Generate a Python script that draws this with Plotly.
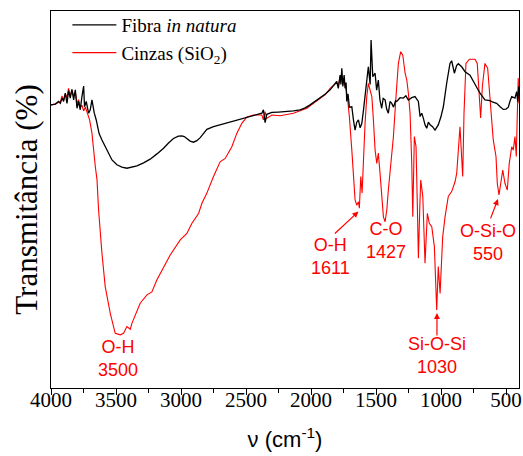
import plotly.graph_objects as go

# FTIR spectra (transmittance in arbitrary %, axis has no scale)
wn_fibra = [4000, 3967, 3942, 3928, 3915, 3903, 3890, 3877, 3865, 3852, 3839, 3826, 3813, 3800,
            3788, 3775, 3762, 3749, 3742, 3729, 3711, 3698, 3685, 3677, 3667, 3652, 3630, 3608,
            3570, 3531, 3493, 3455, 3416, 3378, 3339, 3288, 3237, 3185, 3134, 3096, 3058, 3020,
            2993, 2975, 2955, 2930, 2904, 2878, 2852, 2801, 2750, 2700, 2647, 2596, 2545, 2494,
            2443, 2400, 2378, 2366, 2353, 2340, 2301, 2250, 2186, 2135, 2084, 2045, 2007, 1970,
            1930, 1890, 1853, 1825, 1802, 1790, 1780, 1776, 1770, 1763, 1755, 1745, 1738, 1730,
            1725, 1715, 1705, 1686, 1673, 1661, 1648, 1635, 1622, 1609, 1597, 1584, 1570, 1559,
            1545, 1538, 1525, 1507, 1495, 1482, 1470, 1456, 1445, 1430, 1418, 1405, 1392, 1379,
            1365, 1350, 1340, 1315, 1290, 1270, 1251, 1225, 1200, 1174, 1161, 1148, 1136, 1123,
            1110, 1097, 1084, 1065, 1046, 1021, 1000, 982, 956, 931, 918, 905, 897, 880, 867,
            841, 815, 777, 738, 700, 662, 623, 600, 572, 545, 521, 500, 482, 470, 456, 431, 418,
            410, 402]
t_fibra = [75.1, 75.3, 76.0, 75.5, 76.9, 76.0, 78.2, 75.5, 78.9, 76.9, 79.2, 76.4, 79.1, 74.2,
           76.0, 73.8, 77.3, 80.1, 74.6, 76.0, 72.9, 73.8, 76.4, 74.6, 72.9, 71.1, 67.5, 65.8,
           63.1, 60.5, 59.2, 58.6, 58.3, 58.5, 58.9, 59.7, 60.7, 62.1, 63.6, 65.0, 66.2, 66.8,
           66.9, 66.7, 66.2, 65.5, 65.2, 65.6, 66.4, 68.6, 69.3, 69.8, 70.2, 70.8, 71.3, 71.8,
           72.4, 72.7, 72.9, 73.8, 70.4, 72.6, 73.1, 73.2, 73.3, 73.5, 73.8, 74.3, 75.1, 76.0,
           76.9, 78.0, 79.1, 80.2, 81.3, 79.5, 82.0, 83.0, 80.5, 84.8, 80.0, 83.0, 79.5, 81.0,
           76.0, 78.0, 74.5, 74.6, 71.0, 68.4, 70.5, 71.1, 69.0, 70.2, 73.5, 77.3, 81.0, 85.2,
           80.5, 92.3, 82.6, 83.5, 79.0, 81.7, 76.5, 74.2, 76.8, 76.4, 74.0, 72.9, 76.0, 75.5,
           74.5, 76.2, 76.0, 77.0, 76.9, 77.5, 76.4, 77.0, 77.3, 76.0, 72.0, 72.9, 71.6, 69.8,
           68.9, 70.5, 69.8, 69.3, 68.4, 69.8, 72.0, 74.6, 80.9, 86.1, 86.8, 84.0, 83.5, 85.5,
           86.0, 85.2, 83.9, 83.0, 80.4, 78.2, 76.4, 76.2, 75.8, 75.5, 74.6, 73.9, 74.0, 74.5,
           76.0, 77.3, 76.9, 78.6, 76.0, 79.9]

wn_cinzas = [4000, 3967, 3942, 3928, 3915, 3903, 3890, 3877, 3865, 3852, 3839, 3826, 3813, 3800,
             3788, 3775, 3762, 3749, 3736, 3723, 3703, 3685, 3673, 3659, 3646, 3634, 3608, 3583,
             3544, 3506, 3467, 3442, 3416, 3390, 3377, 3352, 3314, 3262, 3224, 3185, 3134, 3083,
             3006, 2955, 2916, 2865, 2839, 2801, 2750, 2699, 2660, 2609, 2570, 2532, 2493, 2443,
             2378, 2366, 2353, 2340, 2301, 2237, 2135, 2032, 1981, 1930, 1890, 1853, 1820, 1802,
             1790, 1776, 1763, 1750, 1738, 1720, 1705, 1686, 1674, 1661, 1648, 1635, 1628, 1617,
             1607, 1597, 1584, 1571, 1559, 1546, 1532, 1520, 1507, 1494, 1482, 1469, 1456, 1443,
             1430, 1417, 1405, 1392, 1366, 1346, 1328, 1310, 1294, 1276, 1263, 1251, 1238, 1225,
             1217, 1205, 1192, 1183, 1174, 1163, 1156, 1148, 1140, 1123, 1105, 1090, 1071, 1051,
             1033, 1021, 1007, 987, 969, 944, 918, 892, 879, 854, 841, 833, 823, 808, 782, 738,
             721, 708, 695, 682, 662, 641, 623, 610, 598, 577, 567, 554, 541, 525, 508, 490, 475,
             456, 444, 431, 421, 413, 406, 400]
t_cinzas = [75.1, 75.3, 75.8, 75.9, 77.5, 76.4, 78.0, 77.0, 79.5, 77.5, 79.0, 77.5, 78.5, 75.5,
            76.5, 74.5, 75.0, 73.5, 74.5, 72.9, 71.1, 67.6, 63.1, 58.7, 55.2, 47.2, 35.7, 26.9,
            19.8, 14.5, 14.1, 14.5, 16.3, 15.6, 17.2, 19.4, 22.5, 24.7, 25.5, 28.7, 32.2, 35.3,
            39.3, 41.0, 43.7, 46.3, 49.0, 51.7, 56.1, 60.0, 60.9, 64.0, 67.6, 70.2, 71.9, 72.4,
            72.4, 71.1, 73.3, 71.5, 72.4, 72.2, 72.9, 74.2, 75.5, 76.9, 77.8, 79.5, 80.5, 81.0,
            80.3, 82.5, 82.0, 81.0, 80.4, 77.3, 72.0, 63.1, 56.1, 49.9, 48.5, 49.4, 47.7, 56.1,
            51.7, 61.4, 70.2, 77.3, 80.8, 79.1, 77.3, 71.1, 63.1, 59.6, 62.3, 57.0, 50.8, 45.4,
            44.1, 47.2, 52.5, 57.8, 66.7, 77.3, 86.1, 89.2, 88.3, 83.5, 81.7, 78.2, 72.9, 59.6,
            45.4, 66.7, 64.0, 50.0, 34.4, 48.0, 55.2, 53.0, 50.8, 33.1, 46.3, 43.7, 42.8, 37.5,
            20.7, 32.2, 25.1, 40.1, 45.4, 50.8, 52.1, 54.7, 57.0, 69.3, 62.3, 56.1, 72.9, 86.1,
            87.2, 87.2, 86.1, 79.9, 71.6, 79.9, 86.1, 84.8, 77.3, 72.0, 65.8, 61.4, 54.3, 51.2,
            54.3, 57.8, 54.3, 52.5, 59.6, 64.0, 63.1, 66.7, 61.4, 72.9, 82.2, 75.5]

# band labels: text, label position, arrow head, arrow tail (None = no arrow)
band_text = ["O-H<br>3500", "O-H<br>1611", "C-O<br>1427", "Si-O-Si<br>1030", "O-Si-O<br>550"]
band_pos = [(3483, 7.7), (1853, 34.8), (1423, 39.0), (1031, 8.5), (638, 38.7)]
band_head = [None, (1635, 46.8), None, (1031, 19.9), (562, 50.1)]
band_tail = [None, (1828, 40.6), None, (1031, 13.5), (623, 44.6)]

fig = go.Figure()
fig.add_trace(go.Scatter(x=wn_cinzas, y=t_cinzas, mode="lines", name="Cinzas (SiO<sub>2</sub>)",
                         line=dict(color="#ff0000", width=1.1), legendrank=2))
fig.add_trace(go.Scatter(x=wn_fibra, y=t_fibra, mode="lines", name="Fibra <i>in natura</i>",
                         line=dict(color="black", width=1.3), legendrank=1))

for txt, pos, head, tail in zip(band_text, band_pos, band_head, band_tail):
    fig.add_annotation(x=pos[0], y=pos[1], text=txt, showarrow=False,
                       font=dict(family="Liberation Sans", size=18, color="#ff0000"))
    if head is not None:
        fig.add_annotation(x=head[0], y=head[1], ax=tail[0], ay=tail[1], axref="x", ayref="y",
                           text="", showarrow=True, arrowhead=2, arrowsize=1, arrowwidth=1.2,
                           arrowcolor="#ff0000", standoff=0, startstandoff=0)

fig.update_xaxes(range=[4000, 400], tickvals=[4000, 3500, 3000, 2500, 2000, 1500, 1000, 500],
                 ticks="outside", ticklen=6, tickwidth=1.2, tickcolor="black",
                 minor=dict(ticks="outside", dtick=250, ticklen=4, tickwidth=1.2, tickcolor="black"),
                 showline=True, linecolor="black", linewidth=1.2, mirror=True,
                 showgrid=False, zeroline=False, automargin=False, ticklabelstandoff=-13,
                 tickfont=dict(family="Liberation Serif", size=21, color="black"),
                 title=dict(text="ν (cm<sup>-1</sup>)", standoff=20,
                            font=dict(family="Liberation Sans", size=22, color="black")))
fig.update_yaxes(range=[0, 100], showticklabels=False, ticks="",
                 showline=True, linecolor="black", linewidth=1.2, mirror=True,
                 showgrid=False, zeroline=False, automargin=False,
                 title=dict(text="Transmitância (%)", standoff=3,
                            font=dict(family="Liberation Serif", size=31, color="black")))

fig.update_layout(
    width=523, height=456,
    margin=dict(l=51, r=4, t=11, b=68),
    plot_bgcolor="white", paper_bgcolor="white",
    legend=dict(x=0.035, y=1.013, xanchor="left", yanchor="top", bgcolor="rgba(0,0,0,0)",
                itemwidth=44, tracegroupgap=0,
                font=dict(family="Liberation Serif", size=19, color="black")),
)

# drop the default 8px page margin so the figure fills the window exactly
fig.write_html("out.html", config={"displayModeBar": False},
               post_script="document.body.style.margin='0';")
